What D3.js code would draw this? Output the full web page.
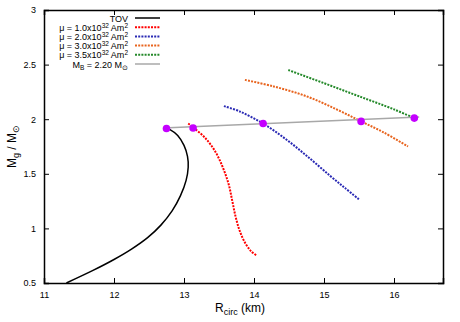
<!DOCTYPE html>
<html>
<head>
<meta charset="utf-8">
<script src="https://cdn.jsdelivr.net/npm/d3@7"></script>
<style>
  body { margin: 0; background: #fff; }
  text { font-family: "Liberation Sans", Arial, sans-serif; fill: #000; }
</style>
</head>
<body>
<svg id="chart" width="460" height="322"></svg>
<script>
// curves: [R_circ (km), M_g / M_sun]
var tovCurve = [[11.32,0.5],[11.7,0.615],[12.0,0.715],[12.25,0.81],[12.48,0.915],[12.67,1.03],
  [12.83,1.16],[12.95,1.3],[13.03,1.44],[13.06,1.56],[13.05,1.66],[13.0,1.76],
  [12.91,1.85],[12.8,1.905],[12.72,1.92]];
var mu10 = [[13.06,1.96],[13.13,1.925],[13.3,1.83],[13.45,1.7],[13.56,1.55],[13.64,1.4],
  [13.69,1.25],[13.74,1.1],[13.8,0.97],[13.88,0.86],[13.96,0.79],[14.04,0.75]];
var mu20 = [[13.57,2.12],[13.8,2.07],[14.13,1.96],[14.47,1.81],[14.78,1.65],[15.09,1.48],
  [15.3,1.37],[15.51,1.26]];
var mu30 = [[13.87,2.36],[14.28,2.3],[14.75,2.21],[15.18,2.09],[15.53,1.98],[15.85,1.88],[16.2,1.75]];
var mu35 = [[14.49,2.45],[15.0,2.33],[15.5,2.21],[16.0,2.09],[16.29,2.01]];
var baryonLine = [[12.7,1.92],[16.36,2.02]];
var crossings = [[12.75,1.915],[13.13,1.92],[14.13,1.96],[15.53,1.98],[16.29,2.01]];

var xTicks = [11, 12, 13, 14, 15, 16];
var yTicks = [0.5, 1, 1.5, 2, 2.5, 3];

var series = [
  {label: "TOV", data: tovCurve, color: "#000000", dash: null, width: 1.5},
  {label: "mu", exp: "1.0", data: mu10, color: "#ff0000", dash: "2,1.2", width: 2},
  {label: "mu", exp: "2.0", data: mu20, color: "#2a2ab4", dash: "2,1.2", width: 2},
  {label: "mu", exp: "3.0", data: mu30, color: "#e8641e", dash: "2,1.2", width: 2},
  {label: "mu", exp: "3.5", data: mu35, color: "#24892a", dash: "2,1.2", width: 2},
  {label: "MB", data: baryonLine, color: "#a8a8a8", dash: null, width: 1.5}
];

var svg = d3.select("#chart");
var margin = {left: 44, right: 17, top: 10, bottom: 39};
var W = 460, H = 322;

var x = d3.scaleLinear().domain([11, 16.7]).range([margin.left, W - margin.right]);
var y = d3.scaleLinear().domain([0.5, 3]).range([H - margin.bottom, margin.top]);

var line = d3.line().x(function(d){ return x(d[0]); }).y(function(d){ return y(d[1]); })
  .curve(d3.curveCatmullRom.alpha(0.5));

// axes, ticks pointing inward, mirrored on top/right
svg.append("g").attr("transform", "translate(0," + y(0.5) + ")")
  .call(d3.axisBottom(x).tickValues(xTicks).tickSize(-5).tickPadding(9).tickFormat(d3.format("d")));
svg.append("g").attr("transform", "translate(0," + y(3) + ")")
  .call(d3.axisTop(x).tickValues(xTicks).tickSize(-5).tickFormat(""));
svg.append("g").attr("transform", "translate(" + x(11) + ",0)")
  .call(d3.axisLeft(y).tickValues(yTicks).tickSize(-5).tickPadding(8).tickFormat(function(d){ return d; }));
svg.append("g").attr("transform", "translate(" + x(16.7) + ",0)")
  .call(d3.axisRight(y).tickValues(yTicks).tickSize(-5).tickFormat(""));

svg.selectAll(".domain").attr("stroke", "#000").attr("stroke-width", 1.5);
svg.selectAll(".tick line").attr("stroke", "#000").attr("stroke-width", 1);
svg.selectAll(".tick text").style("font-size", "9px").attr("fill", "#000");

// curves
series.forEach(function(s){
  svg.append("path").datum(s.data)
    .attr("d", line)
    .attr("fill", "none")
    .attr("stroke", s.color)
    .attr("stroke-width", s.width)
    .attr("stroke-dasharray", s.dash);
});

svg.selectAll("circle.cross").data(crossings).enter().append("circle")
  .attr("cx", function(d){ return x(d[0]); })
  .attr("cy", function(d){ return y(d[1]); })
  .attr("r", 3.8)
  .attr("fill", "#c400ff");

// legend
var leg = svg.append("g").style("font-size", "9px");
series.forEach(function(s, i){
  var ly = 18 + i * 9.2;
  var t = leg.append("text").attr("x", 128).attr("y", ly + 3.5).attr("text-anchor", "end");
  if (s.label === "TOV") {
    t.text("TOV");
  } else if (s.label === "mu") {
    t.append("tspan").text("\u03bc = " + s.exp + "x10");
    t.append("tspan").attr("dy", -3).style("font-size", "6.5px").text("32");
    t.append("tspan").attr("dy", 3).text(" Am");
    t.append("tspan").attr("dy", -3).style("font-size", "6.5px").text("2");
  } else {
    t.append("tspan").text("M");
    t.append("tspan").attr("dy", 2.5).style("font-size", "6.5px").text("B");
    t.append("tspan").attr("dy", -2.5).text(" = 2.20 M");
    t.append("tspan").attr("dy", 2.5).style("font-size", "6.5px").text("\u2299");
  }
  leg.append("line").attr("x1", 135).attr("x2", 160).attr("y1", ly).attr("y2", ly)
    .attr("stroke", s.color).attr("stroke-width", s.width)
    .attr("stroke-dasharray", s.dash);
});

// axis titles
var xt = svg.append("text").attr("x", 240).attr("y", 312).attr("text-anchor", "middle").style("font-size", "12px");
xt.append("tspan").text("R");
xt.append("tspan").attr("dy", 3).style("font-size", "9px").text("circ");
xt.append("tspan").attr("dy", -3).text(" (km)");

var yt = svg.append("text").attr("transform", "translate(16," + ((y(0.5) + y(3)) / 2) + ") rotate(-90)")
  .attr("text-anchor", "middle").style("font-size", "12px");
yt.append("tspan").text("M");
yt.append("tspan").attr("dy", 3).style("font-size", "9px").text("g");
yt.append("tspan").attr("dy", -3).text(" / M");
yt.append("tspan").attr("dy", 3).style("font-size", "9px").text("\u2299");
</script>
</body>
</html>
